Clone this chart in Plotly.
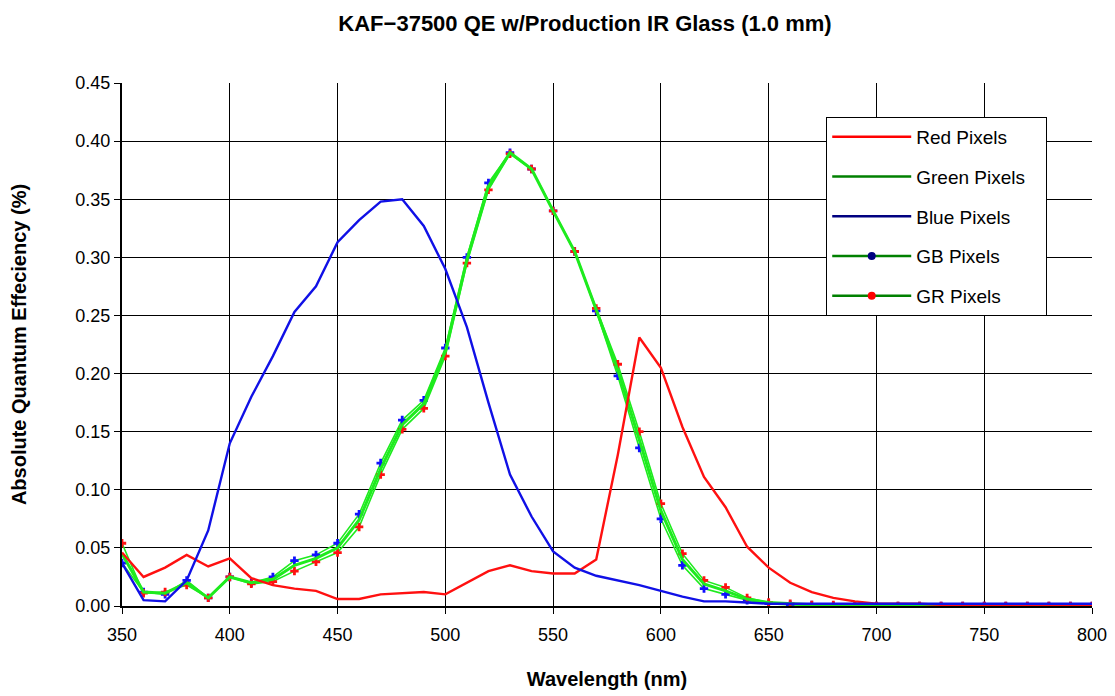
import plotly.graph_objects as go

wavelength = list(range(350, 801, 10))

red_qe = [0.046, 0.025, 0.033, 0.044, 0.034, 0.041, 0.024, 0.018, 0.015, 0.013,
          0.006, 0.006, 0.010, 0.011, 0.012, 0.010, 0.020, 0.030, 0.035, 0.030,
          0.028, 0.028, 0.040, 0.130, 0.231, 0.205, 0.154, 0.111, 0.085, 0.051,
          0.033, 0.020, 0.012, 0.007, 0.004, 0.002, 0.002, 0.002, 0.001, 0.001,
          0.001, 0.001, 0.001, 0.001, 0.001, 0.001]

blue_qe = [0.037, 0.005, 0.004, 0.022, 0.065, 0.140, 0.180, 0.215, 0.253, 0.275,
           0.313, 0.332, 0.348, 0.350, 0.327, 0.290, 0.240, 0.175, 0.113, 0.077,
           0.047, 0.033, 0.026, 0.022, 0.018, 0.013, 0.008, 0.004, 0.004, 0.003,
           0.002, 0.002, 0.002, 0.002, 0.002, 0.002, 0.002, 0.002, 0.002, 0.002,
           0.002, 0.002, 0.002, 0.002, 0.002, 0.002]

gb_qe = [0.037, 0.012, 0.010, 0.022, 0.007, 0.025, 0.020, 0.025, 0.039, 0.044,
         0.054, 0.079, 0.123, 0.160, 0.177, 0.222, 0.300, 0.364, 0.390, 0.376,
         0.340, 0.305, 0.254, 0.198, 0.136, 0.075, 0.035, 0.015, 0.010, 0.005,
         0.002, 0.001, 0.001, 0.000, 0.000, 0.000, 0.000, 0.000, 0.000, 0.000,
         0.000, 0.000, 0.000, 0.000, 0.000, 0.000]

gr_qe = [0.054, 0.011, 0.012, 0.018, 0.007, 0.025, 0.019, 0.021, 0.030, 0.038,
         0.046, 0.068, 0.113, 0.152, 0.170, 0.215, 0.295, 0.358, 0.389, 0.376,
         0.340, 0.305, 0.256, 0.208, 0.150, 0.088, 0.045, 0.022, 0.016, 0.007,
         0.003, 0.002, 0.001, 0.001, 0.000, 0.000, 0.000, 0.000, 0.000, 0.000,
         0.000, 0.000, 0.000, 0.000, 0.000, 0.000]

green_qe = [0.045, 0.012, 0.011, 0.020, 0.007, 0.025, 0.020, 0.023, 0.035, 0.041,
            0.050, 0.074, 0.118, 0.156, 0.174, 0.219, 0.298, 0.361, 0.390, 0.376,
            0.340, 0.305, 0.255, 0.203, 0.143, 0.082, 0.040, 0.019, 0.013, 0.006,
            0.003, 0.002, 0.001, 0.001, 0.000, 0.000, 0.000, 0.000, 0.000, 0.000,
            0.000, 0.000, 0.000, 0.000, 0.000, 0.000]

legend_names = ["Red Pixels", "Green Pixels\u00a0\u00a0\u00a0", "Blue Pixels", "GB Pixels", "GR Pixels"]

FONT = "Liberation Sans, Arial, sans-serif"
LIME = "#1EEB1E"

fig = go.Figure()

# data traces (no legend)
fig.add_trace(go.Scatter(x=wavelength, y=gb_qe, mode="lines+markers", showlegend=False,
                         line=dict(color=LIME, width=1.6),
                         marker=dict(symbol="cross", size=7, color="#1010FF")))
fig.add_trace(go.Scatter(x=wavelength, y=gr_qe, mode="lines+markers", showlegend=False,
                         line=dict(color=LIME, width=1.6),
                         marker=dict(symbol="cross", size=7, color="#FF1010")))
fig.add_trace(go.Scatter(x=wavelength, y=green_qe, mode="lines", showlegend=False,
                         line=dict(color=LIME, width=3)))
fig.add_trace(go.Scatter(x=wavelength, y=red_qe, mode="lines", showlegend=False,
                         line=dict(color="#FF1010", width=2.4)))
fig.add_trace(go.Scatter(x=wavelength, y=blue_qe, mode="lines", showlegend=False,
                         line=dict(color="#1010E6", width=2.4)))

# legend entries
leg_styles = [
    dict(mode="lines", line=dict(color="#FF0000", width=2.5)),
    dict(mode="lines", line=dict(color="#008000", width=2.5)),
    dict(mode="lines", line=dict(color="#000080", width=2.5)),
    dict(mode="lines+markers", line=dict(color="#008000", width=2.5),
         marker=dict(symbol="circle", size=8, color="#000080")),
    dict(mode="lines+markers", line=dict(color="#008000", width=2.5),
         marker=dict(symbol="circle", size=8, color="#FF0000")),
]
for name, st in zip(legend_names, leg_styles):
    fig.add_trace(go.Scatter(x=[None], y=[None], name=name, legendgroup=name, **st))

fig.update_layout(
    width=1115, height=696,
    margin=dict(l=114, r=31, t=75, b=98, autoexpand=False),
    paper_bgcolor="white", plot_bgcolor="white",
    font=dict(family=FONT, size=18, color="black"),
    title=dict(text="<b>KAF−37500 QE w/Production IR Glass (1.0 mm)</b>",
               xref="container", x=0.5175, xanchor="center",
               yref="container", y=0.978, yanchor="middle",
               font=dict(family=FONT, size=22, color="black")),
    legend=dict(x=0.726, y=0.935, xanchor="left", yanchor="top",
                bgcolor="white", bordercolor="black", borderwidth=1,
                font=dict(family=FONT, size=19, color="black"),
                tracegroupgap=12, itemwidth=79),
    xaxis=dict(range=[350, 800], tickmode="linear", tick0=350, dtick=50,
               automargin=False,
               showgrid=True, gridcolor="black", gridwidth=1,
               showline=True, linecolor="black", linewidth=2, mirror=False,
               ticks="outside", ticklen=6, tickcolor="black",
               ticklabelstandoff=5,
               tickfont=dict(size=18),
               title=dict(text="<b>Wavelength (nm)</b>", font=dict(size=20), standoff=28),
               zeroline=False),
    yaxis=dict(range=[0, 0.45], tickmode="linear", tick0=0, dtick=0.05,
               tickformat=".2f", automargin=False,
               showgrid=True, gridcolor="black", gridwidth=1,
               showline=True, linecolor="black", linewidth=2,
               ticks="outside", ticklen=6, tickcolor="black",
               tickfont=dict(size=18),
               title=dict(text="<b>Absolute Quantum Effeciency (%)</b>", font=dict(size=20), standoff=45),
               zeroline=False),
)

fig.write_html("out.html")
